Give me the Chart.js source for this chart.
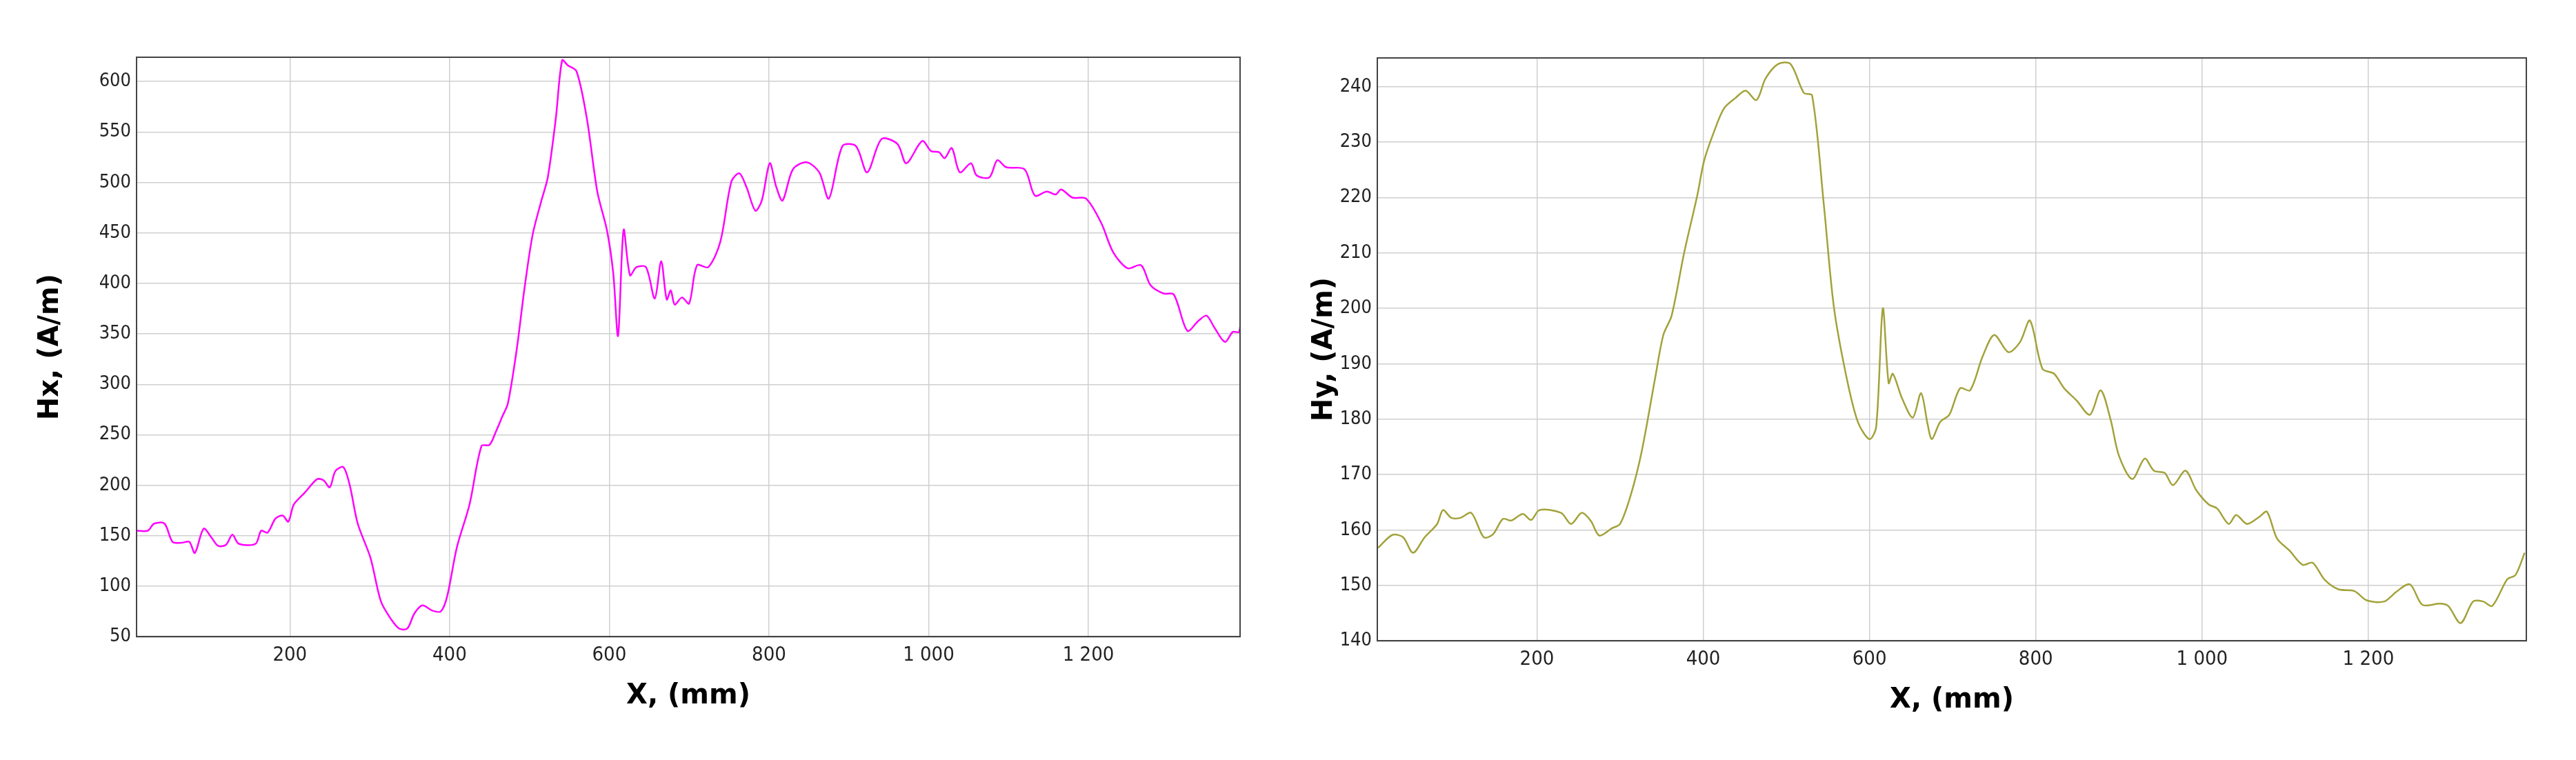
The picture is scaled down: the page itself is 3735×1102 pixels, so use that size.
<!DOCTYPE html>
<html>
<head>
<meta charset="utf-8">
<script src="https://cdn.jsdelivr.net/npm/chart.js@4"></script>
<style>
  body { margin: 0; background: #fff; }
  .box { position: absolute; top: 0; height: 1102px; }
</style>
</head>
<body>
<div class="box" style="left:0;width:1850px"><canvas id="js--chart--1"></canvas></div>
<div class="box" style="left:1867px;width:1868px"><canvas id="js--chart--2"></canvas></div>
<script>
// Hx curve, [x mm, A/m]
const hxX = [7,22,30,43,53,64,74,81,92,102,110,120,128,136,157,164,172,182,191,198,205,219,234,242,250,257,267,275,285,301,314,327,337,347,356,366,378,389,397,409,425,440,450,458,466,473,484,494,504,515,523,533,541,548,559,572,585,597,605,611,618,626,634,646,657,665,672,677,682,691,700,710,724,739,753,763,772,783,791,801,809,817,830,847,863,875,892,909,923,941,961,972,992,1003,1013,1020,1029,1039,1053,1060,1076,1086,1097,1120,1133,1148,1159,1166,1180,1197,1216,1231,1249,1266,1278,1294,1307,1324,1338,1348,1358,1371,1381,1389,1392];
const hxY = [155,155,162,162,144,143,144,133,157,148,140,141,151,142,142,155,153,167,170,164,181,193,206,205,198,214,218,200,162,128,85,67,58,58,73,81,76,75,90,138,181,239,240,253,268,281,334,396,448,482,505,563,621,616,610,563,491,453,410,348,453,408,416,416,385,422,384,393,379,386,380,418,416,441,501,509,495,472,482,519,496,482,513,520,510,484,536,536,510,543,538,519,541,531,530,524,534,510,519,507,505,522,515,513,487,491,488,493,485,484,460,431,415,418,398,390,389,353,363,368,356,342,352,352,385];

// Hy curve, [x mm, A/m]
const hyX = [9,26,39,51,65,80,87,97,108,121,136,147,159,169,183,193,203,229,241,254,265,275,290,300,313,326,342,352,362,377,393,401,413,425,439,451,464,475,490,505,521,531,545,557,572,586,600,608,616,623,628,639,652,662,670,675,685,696,709,721,736,750,767,781,793,808,822,834,849,865,878,890,900,916,931,942,955,965,980,993,1008,1018,1032,1041,1054,1069,1078,1090,1105,1121,1133,1147,1164,1183,1198,1219,1234,1250,1265,1286,1296,1311,1326,1338,1349,1367,1377,1388];
const hyY = [156.8,159.1,158.7,155.9,158.7,161.1,163.6,162.2,162.2,163.1,158.7,159.2,162.0,161.7,162.9,161.8,163.6,163.1,161.1,163.1,161.6,159.0,160.3,161.1,166.4,174.2,187.3,195.2,198.7,210.0,220.5,226.6,231.9,236.1,238.0,239.3,237.6,241.5,244.1,244.1,238.9,238.4,218.8,200.4,187.8,179.5,176.4,178.6,200.0,186.5,188.2,183.8,180.3,184.7,179.0,176.4,179.5,180.8,185.6,185.2,191.3,195.2,192.1,193.9,197.8,189.1,188.2,185.6,183.4,180.8,185.2,179.9,173.4,169.2,172.9,170.7,170.3,168.1,170.7,167.2,164.6,163.9,161.1,162.7,161.1,162.4,163.3,158.5,156.3,153.7,154.1,151.1,149.3,149.0,147.3,147.1,148.9,150.2,146.5,146.7,146.3,143.2,147.1,147.1,146.3,151.1,151.9,155.9];

const xTicks = [200, 400, 600, 800, 1000, 1200];
const hxTicks = [50,100,150,200,250,300,350,400,450,500,550,600];
const hyTicks = [140,150,160,170,180,190,200,210,220,230,240];

const frame = {
    id: 'frame',
    afterDraw(chart) {
        const a = chart.chartArea, c = chart.ctx;
        c.save();
        c.strokeStyle = '#444';
        c.lineWidth = 2;
        c.strokeRect(a.left, a.top, a.right - a.left, a.bottom - a.top);
        c.restore();
    }
};

function fmt(v) {
    return String(v).replace(/\B(?=(\d{3})+(?!\d))/g, ' ');
}

function makeConfig(xs, ys, color, yTicks, yMin, yMax, yTitle, yWidth, pad) {
    return {
        type: 'line',
        data: {
            datasets: [{
                data: xs.map((x, i) => ({ x: x, y: ys[i] })),
                borderColor: color,
                borderWidth: 2.5,
                pointRadius: 0,
                tension: 0.3,
                fill: false,
            }]
        },
        options: {
            responsive: true,
            maintainAspectRatio: false,
            animation: false,
            layout: { padding: pad },
            plugins: { legend: { display: false }, tooltip: { enabled: false } },
            scales: {
                x: {
                    type: 'linear', min: 8, max: 1390,
                    afterBuildTicks: s => { s.ticks = xTicks.map(v => ({ value: v })); },
                    ticks: { callback: v => fmt(v), color: '#222', font: { family: 'DejaVu Sans Condensed', size: 29 }, padding: 10 },
                    grid: { color: '#cfcfcf', lineWidth: 1.5, tickLength: 0 },
                    border: { color: '#444', width: 2 },
                    title: { display: true, text: 'X, (mm)', color: '#000', font: { family: 'DejaVu Sans', size: 40, weight: 'bold' }, padding: { top: 8 } }
                },
                y: {
                    type: 'linear', min: yMin, max: yMax,
                    afterBuildTicks: s => { s.ticks = yTicks.map(v => ({ value: v })); },
                    afterFit: s => { s.width = yWidth; },
                    ticks: { color: '#222', font: { family: 'DejaVu Sans Condensed', size: 27 }, padding: 8 },
                    grid: { color: '#cfcfcf', lineWidth: 1.5, tickLength: 0 },
                    border: { color: '#444', width: 2 },
                    title: { display: true, text: yTitle, color: '#000', font: { family: 'DejaVu Sans', size: 40, weight: 'bold' }, padding: 2 }
                }
            }
        },
        plugins: [frame]
    };
}

new Chart(document.getElementById('js--chart--1'),
    makeConfig(hxX, hxY, '#ff00ff', hxTicks, 50, 624, 'Hx, (A/m)', 150, { top: 83, right: 52, bottom: 64, left: 48 }));
new Chart(document.getElementById('js--chart--2'),
    makeConfig(hyX, hyY, '#a3a23a', hyTicks, 140, 245.2, 'Hy, (A/m)', 102, { top: 84, right: 72, bottom: 58, left: 28 }));
</script>
</body>
</html>
